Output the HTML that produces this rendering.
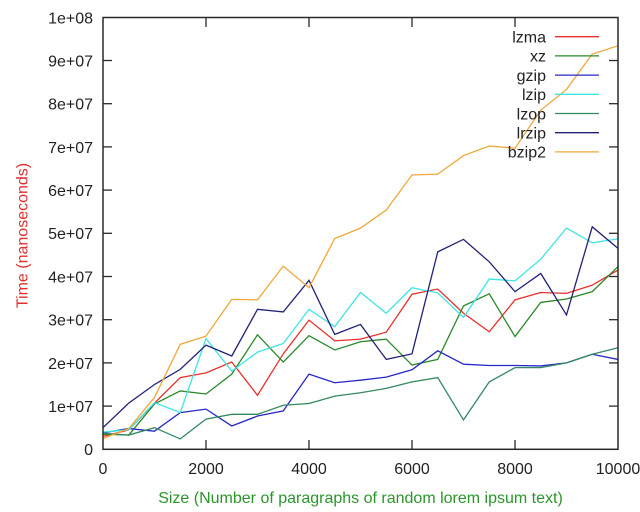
<!DOCTYPE html>
<html><head><meta charset="utf-8"><style>
html,body{margin:0;padding:0;background:#fff;}
svg{display:block;}
text{font-family:"Liberation Sans",Arial,sans-serif;font-size:16px;fill:#222;}
</style></head><body>
<svg width="640" height="512" viewBox="0 0 640 512" xmlns="http://www.w3.org/2000/svg">
<rect width="640" height="512" fill="#fff"/>
<!-- series -->
<g transform="translate(103,449.3) scale(25.75,-43.2)" fill="none" stroke-width="1.3" stroke-linejoin="miter">
<polyline vector-effect="non-scaling-stroke" stroke="#e8302c" points="0,0.3 1,0.45 2,1.07 3,1.66 4,1.77 5,2.02 6,1.25 7,2.21 8,2.99 9,2.51 10,2.55 11,2.71 12,3.59 13,3.71 14,3.15 15,2.72 16,3.46 17,3.63 18,3.61 19,3.8 20,4.15"/>
<polyline vector-effect="non-scaling-stroke" stroke="#2a8a2a" points="0,0.35 1,0.33 2,1.05 3,1.35 4,1.28 5,1.74 6,2.65 7,2.02 8,2.63 9,2.3 10,2.49 11,2.55 12,1.95 13,2.08 14,3.32 15,3.6 16,2.61 17,3.4 18,3.48 19,3.65 20,4.23"/>
<polyline vector-effect="non-scaling-stroke" stroke="#2828c8" points="0,0.38 1,0.48 2,0.42 3,0.85 4,0.93 5,0.54 6,0.77 7,0.89 8,1.74 9,1.54 10,1.6 11,1.67 12,1.84 13,2.28 14,1.97 15,1.94 16,1.94 17,1.93 18,2.0 19,2.2 20,2.08"/>
<polyline vector-effect="non-scaling-stroke" stroke="#40e4e4" points="0,0.4 1,0.45 2,1.08 3,0.85 4,2.56 5,1.81 6,2.25 7,2.45 8,3.24 9,2.84 10,3.63 11,3.15 12,3.74 13,3.62 14,3.05 15,3.94 16,3.9 17,4.4 18,5.12 19,4.78 20,4.87"/>
<polyline vector-effect="non-scaling-stroke" stroke="#338a60" points="0,0.37 1,0.33 2,0.5 3,0.24 4,0.7 5,0.81 6,0.81 7,1.02 8,1.06 9,1.23 10,1.31 11,1.41 12,1.56 13,1.66 14,0.68 15,1.56 16,1.89 17,1.89 18,2.0 19,2.2 20,2.35"/>
<polyline vector-effect="non-scaling-stroke" stroke="#22227a" points="0,0.5 1,1.07 2,1.5 3,1.85 4,2.41 5,2.16 6,3.24 7,3.18 8,3.91 9,2.66 10,2.89 11,2.08 12,2.21 13,4.57 14,4.86 15,4.34 16,3.65 17,4.07 18,3.11 19,5.15 20,4.65"/>
<polyline vector-effect="non-scaling-stroke" stroke="#f0a838" points="0,0.25 1,0.48 2,1.2 3,2.43 4,2.62 5,3.47 6,3.46 7,4.24 8,3.74 9,4.88 10,5.12 11,5.54 12,6.35 13,6.37 14,6.8 15,7.02 16,6.97 17,7.85 18,8.33 19,9.15 20,9.34"/>
</g>
<!-- axes box -->
<rect x="103" y="17.5" width="515" height="431.8" fill="none" stroke="#2a2a2a" stroke-width="1.5"/>
<!-- ticks -->
<g stroke="#2a2a2a" stroke-width="1.3">
<line x1="103" y1="406.1" x2="112" y2="406.1"/><line x1="618" y1="406.1" x2="609" y2="406.1"/>
<line x1="103" y1="362.9" x2="112" y2="362.9"/><line x1="618" y1="362.9" x2="609" y2="362.9"/>
<line x1="103" y1="319.7" x2="112" y2="319.7"/><line x1="618" y1="319.7" x2="609" y2="319.7"/>
<line x1="103" y1="276.5" x2="112" y2="276.5"/><line x1="618" y1="276.5" x2="609" y2="276.5"/>
<line x1="103" y1="233.3" x2="112" y2="233.3"/><line x1="618" y1="233.3" x2="609" y2="233.3"/>
<line x1="103" y1="190.1" x2="112" y2="190.1"/><line x1="618" y1="190.1" x2="609" y2="190.1"/>
<line x1="103" y1="146.9" x2="112" y2="146.9"/><line x1="618" y1="146.9" x2="609" y2="146.9"/>
<line x1="103" y1="103.7" x2="112" y2="103.7"/><line x1="618" y1="103.7" x2="609" y2="103.7"/>
<line x1="103" y1="60.5" x2="112" y2="60.5"/><line x1="618" y1="60.5" x2="609" y2="60.5"/>
<line x1="206" y1="449.3" x2="206" y2="440"/><line x1="206" y1="17.5" x2="206" y2="27"/>
<line x1="309" y1="449.3" x2="309" y2="440"/><line x1="309" y1="17.5" x2="309" y2="27"/>
<line x1="412" y1="449.3" x2="412" y2="440"/><line x1="412" y1="17.5" x2="412" y2="27"/>
<line x1="515" y1="449.3" x2="515" y2="440"/><line x1="515" y1="17.5" x2="515" y2="27"/>
</g>
<!-- y tick labels -->
<g text-anchor="end">
<text x="93" y="455">0</text>
<text x="93" y="412">1e+07</text>
<text x="93" y="368.8">2e+07</text>
<text x="93" y="325.6">3e+07</text>
<text x="93" y="282.4">4e+07</text>
<text x="93" y="239.2">5e+07</text>
<text x="93" y="196">6e+07</text>
<text x="93" y="152.8">7e+07</text>
<text x="93" y="109.6">8e+07</text>
<text x="93" y="66.4">9e+07</text>
<text x="93" y="23.4">1e+08</text>
</g>
<!-- x tick labels -->
<g text-anchor="middle">
<text x="103" y="474">0</text>
<text x="206" y="474">2000</text>
<text x="309" y="474">4000</text>
<text x="412" y="474">6000</text>
<text x="515" y="474">8000</text>
<text x="618" y="474">10000</text>
</g>
<!-- axis titles -->
<text x="360.5" y="503" text-anchor="middle" style="fill:#2a962a">Size (Number of paragraphs of random lorem ipsum text)</text>
<text transform="translate(27.5,235.5) rotate(-90)" text-anchor="middle" style="fill:#e03030">Time (nanoseconds)</text>
<!-- legend -->
<g text-anchor="end">
<text x="546" y="42.5">lzma</text>
<text x="546" y="61.7">xz</text>
<text x="546" y="80.9">gzip</text>
<text x="546" y="100.1">lzip</text>
<text x="546" y="119.3">lzop</text>
<text x="546" y="138.5">lrzip</text>
<text x="546" y="157.7">bzip2</text>
</g>
<g stroke-width="1.3">
<line x1="555" y1="36.7" x2="599" y2="36.7" stroke="#e8302c"/>
<line x1="555" y1="55.9" x2="599" y2="55.9" stroke="#2a8a2a"/>
<line x1="555" y1="75.1" x2="599" y2="75.1" stroke="#2828c8"/>
<line x1="555" y1="94.3" x2="599" y2="94.3" stroke="#40e4e4"/>
<line x1="555" y1="113.5" x2="599" y2="113.5" stroke="#338a60"/>
<line x1="555" y1="132.7" x2="599" y2="132.7" stroke="#22227a"/>
<line x1="555" y1="151.9" x2="599" y2="151.9" stroke="#f0a838"/>
</g>
</svg>
</body></html>
